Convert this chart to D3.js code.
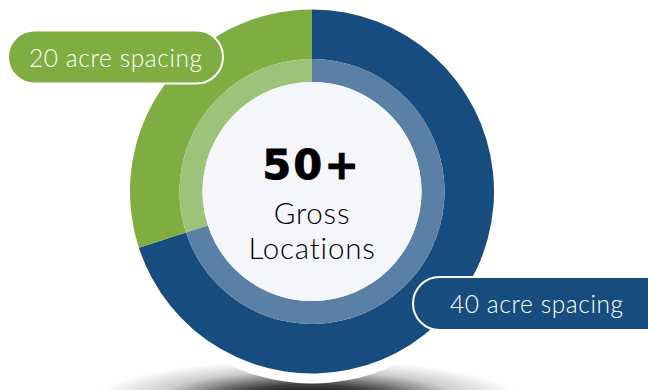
<!DOCTYPE html>
<html>
<head>
<meta charset="utf-8">
<script src="https://cdn.jsdelivr.net/npm/d3@7"></script>
<style>
  html, body { margin: 0; padding: 0; background: #ffffff; }
  svg { display: block; }
</style>
</head>
<body>
<svg id="chart" width="648" height="390"></svg>
<script>
// Share of gross locations by well spacing
const categories = ["40 acre spacing", "20 acre spacing"];
const shares = [70, 30];
const ringColors = ["#174d7e", "#7fad41"];
const innerColors = ["#5a80a5", "#9dc27a"];
const centerValue = "50+";
const centerLines = ["Gross", "Locations"];

const width = 648, height = 390;
const cx = 312, cy = 191.5;
const outerR = 182, midR = 132.5, innerR = 109.5;

const svg = d3.select("#chart");
const defs = svg.append("defs");

// soft floor shadow under the ring
const grad = defs.append("radialGradient").attr("id", "floorShadow");
grad.append("stop").attr("offset", "0%").attr("stop-color", "#000").attr("stop-opacity", 1);
grad.append("stop").attr("offset", "35%").attr("stop-color", "#000").attr("stop-opacity", 0.75);
grad.append("stop").attr("offset", "70%").attr("stop-color", "#000").attr("stop-opacity", 0.2);
grad.append("stop").attr("offset", "100%").attr("stop-color", "#000").attr("stop-opacity", 0);

svg.append("ellipse")
  .attr("cx", 308).attr("cy", 398)
  .attr("rx", 212).attr("ry", 38)
  .attr("fill", "url(#floorShadow)");

const g = svg.append("g").attr("transform", `translate(${cx},${cy})`);

// white halo separating the ring from its shadow
g.append("circle").attr("r", outerR + 10).attr("fill", "#ffffff");

const pie = d3.pie().sort(null).value(d => d);
const slices = pie(shares);

const outerArc = d3.arc().innerRadius(midR).outerRadius(outerR);
const innerArc = d3.arc().innerRadius(innerR).outerRadius(midR);

g.selectAll("path.outer")
  .data(slices)
  .join("path")
  .attr("class", "outer")
  .attr("d", outerArc)
  .attr("fill", (d, i) => ringColors[i]);

g.selectAll("path.inner")
  .data(slices)
  .join("path")
  .attr("class", "inner")
  .attr("d", innerArc)
  .attr("fill", (d, i) => innerColors[i]);

g.append("circle").attr("r", innerR).attr("fill", "#f5f6fa");

// centre caption
g.append("text")
  .attr("x", 0).attr("y", -12.5)
  .attr("text-anchor", "middle")
  .attr("font-family", "'DejaVu Sans', sans-serif")
  .attr("font-weight", 700)
  .attr("font-size", 41)
  .attr("letter-spacing", 2.5)
  .attr("fill", "#000")
  .attr("stroke", "#000")
  .attr("stroke-width", 1)
  .text(centerValue);

g.selectAll("text.line")
  .data(centerLines)
  .join("text")
  .attr("class", "line")
  .attr("x", 0)
  .attr("y", (d, i) => 32.5 + i * 35)
  .attr("text-anchor", "middle")
  .attr("font-family", "Lato, sans-serif")
  .attr("font-weight", 300)
  .attr("font-size", 29.5)
  .attr("letter-spacing", 0.8)
  .attr("fill", "#000")
  .text(d => d);

// pill labels for each spacing
const pills = [
  { x: 413, y: 277, w: 262, h: 53, tx: 450 },
  { x: 8, y: 30.5, w: 215, h: 53, tx: 29 }
];

const labelG = svg.selectAll("g.pill")
  .data(categories)
  .join("g")
  .attr("class", "pill");

labelG.append("rect")
  .attr("x", (d, i) => pills[i].x)
  .attr("y", (d, i) => pills[i].y)
  .attr("width", (d, i) => pills[i].w)
  .attr("height", (d, i) => pills[i].h)
  .attr("rx", 26.5)
  .attr("fill", (d, i) => ringColors[i])
  .attr("stroke", "#ffffff")
  .attr("stroke-width", 2);

labelG.append("text")
  .attr("x", (d, i) => pills[i].tx)
  .attr("y", (d, i) => pills[i].y + 36)
  .attr("font-family", "Lato, sans-serif")
  .attr("font-weight", 300)
  .attr("font-size", 24.5)
  .attr("letter-spacing", 0.6)
  .attr("fill", "#ffffff")
  .text(d => d);
</script>
</body>
</html>
